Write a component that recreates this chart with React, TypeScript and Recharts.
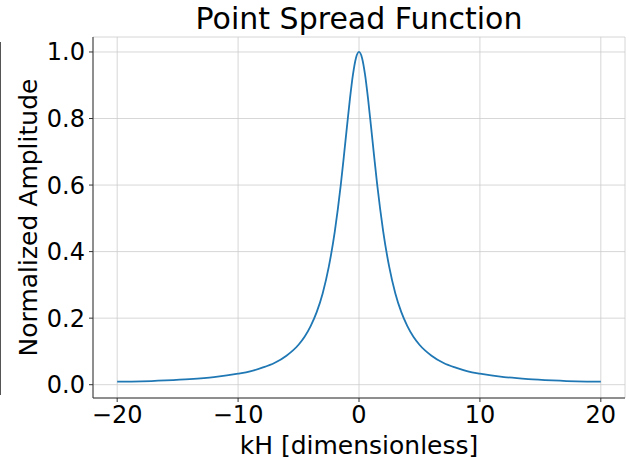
import { LineChart, Line, XAxis, YAxis, CartesianGrid, Label } from 'recharts';

// kH positions (dense around the peak)
const kH = [
  -20, -18, -16, -14, -12, -10, -9, -8, -7, -6, -5, -4.5, -4, -3.5, -3, -2.5, -2, -1.75, -1.5, -1.25, -1, -0.75, -0.5, -0.25,
  0,
  0.25, 0.5, 0.75, 1, 1.25, 1.5, 1.75, 2, 2.5, 3, 3.5, 4, 4.5, 5, 6, 7, 8, 9, 10, 12, 14, 16, 18, 20
];

// normalized amplitude estimated at each kH
const amplitude = [
  0.009, 0.010, 0.013, 0.017, 0.023, 0.033, 0.040, 0.051, 0.065, 0.087, 0.120, 0.144, 0.176, 0.218, 0.275, 0.354, 0.461, 0.528, 0.603, 0.687, 0.774, 0.859, 0.932, 0.982,
  1.0,
  0.982, 0.932, 0.859, 0.774, 0.687, 0.603, 0.528, 0.461, 0.354, 0.275, 0.218, 0.176, 0.144, 0.120, 0.087, 0.065, 0.051, 0.040, 0.033, 0.023, 0.017, 0.013, 0.010, 0.009
];

const xTicks = [-20, -10, 0, 10, 20];
const yTicks = [0, 0.2, 0.4, 0.6, 0.8, 1.0];

const data = kH.map((x, i) => ({ x, y: amplitude[i] }));

const font = 'DejaVu Sans, Liberation Sans, sans-serif';
const spine = '#333333';

const fmtX = (v: number) => (v < 0 ? `\u2212${Math.abs(v)}` : `${v}`);

export default function App() {
  return (
    <div style={{ position: 'absolute', left: 0, top: 0, width: 629, height: 460, background: 'white', fontFamily: font }}>
      {/* stray edge line seen at the left of the figure */}
      <div style={{ position: 'absolute', left: 0, top: 42, width: 1, height: 353, background: '#555' }} />
      <div style={{ position: 'absolute', left: 93, width: 532, top: 1, textAlign: 'center', fontSize: 30, color: '#000', lineHeight: '36px' }}>
        Point Spread Function
      </div>
      <LineChart width={629} height={460} data={data} margin={{ top: 37, right: 4, left: 0, bottom: 0 }}>
        <CartesianGrid stroke="#cccccc" strokeWidth={0.8} horizontal vertical />
        <XAxis
          dataKey="x"
          type="number"
          domain={[-22, 22]}
          ticks={xTicks}
          allowDataOverflow
          height={62}
          tickFormatter={fmtX}
          stroke={spine}
          tick={{ fill: '#000', fontSize: 24, fontFamily: font }}
          tickSize={4}
          tickMargin={4}
        >
          <Label value="kH [dimensionless]" position="insideBottom" offset={6} style={{ fill: '#000', fontSize: 25, fontFamily: font }} />
        </XAxis>
        <XAxis xAxisId="top" dataKey="x" type="number" domain={[-22, 22]} orientation="top" height={0} tick={false} tickLine={false} stroke={spine} />
        <YAxis
          type="number"
          domain={[-0.04, 1.045]}
          ticks={yTicks}
          allowDataOverflow
          width={93}
          tickFormatter={(v: number) => v.toFixed(1)}
          stroke={spine}
          tick={{ fill: '#000', fontSize: 24, fontFamily: font }}
          tickSize={4}
          tickMargin={4}
        >
          <Label value="Normalized Amplitude" angle={-90} position="insideLeft" offset={28} style={{ fill: '#000', fontSize: 25, fontFamily: font, textAnchor: 'middle' }} />
        </YAxis>
        <YAxis yAxisId="right" type="number" domain={[-0.04, 1.045]} orientation="right" width={0} tick={false} tickLine={false} stroke={spine} />
        <Line type="monotone" dataKey="y" stroke="#1f77b4" strokeWidth={1.8} dot={false} isAnimationActive={false} />
      </LineChart>
    </div>
  );
}
